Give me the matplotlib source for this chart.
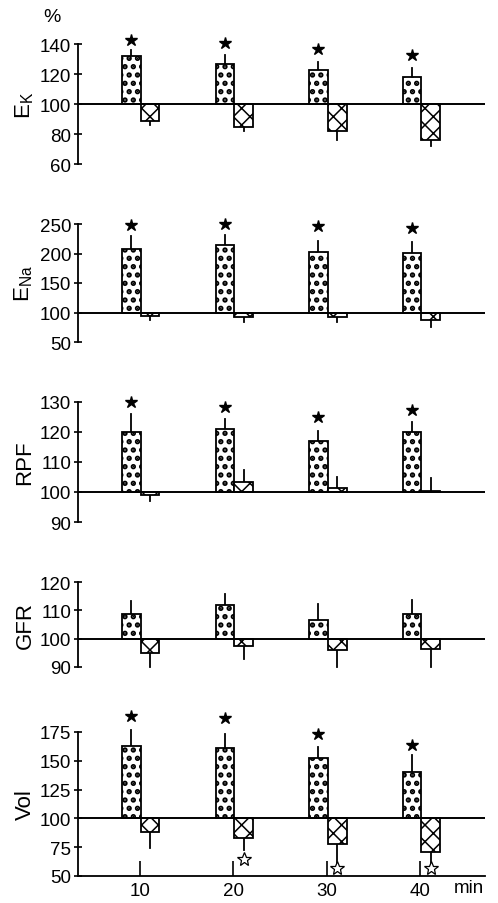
import matplotlib
matplotlib.use("Agg")
import matplotlib.pyplot as plt

plt.rcParams['font.family'] = ['Liberation Sans', 'DejaVu Sans']

# time points (min)
times = [10, 20, 30, 40]

# E_K
ek_drug = [132, 127, 123, 118]
ek_drug_err = [4, 6, 5, 6]
ek_ctrl = [89, 85, 82, 76]
ek_ctrl_err = [3, 3, 6, 4]
ek_star = [143, 141, 137, 133]

# E_Na
ena_drug = [207, 215, 202, 201]
ena_drug_err = [22, 17, 19, 18]
ena_ctrl = [94, 92, 93, 87]
ena_ctrl_err = [6, 8, 9, 12]
ena_star = [248, 250, 246, 243]

# RPF
rpf_drug = [120, 121, 117, 120]
rpf_drug_err = [6, 3.5, 3.5, 3.5]
rpf_ctrl = [99, 103.5, 101.5, 100.3]
rpf_ctrl_err = [2, 4, 3.5, 4.5]
rpf_star = [130, 128.3, 125, 127.3]

# GFR
gfr_drug = [108.8, 112, 106.7, 108.8]
gfr_drug_err = [4.5, 3.8, 5.6, 4.9]
gfr_ctrl = [95, 97.5, 96, 96.5]
gfr_ctrl_err = [5, 4.5, 6, 6.5]

# Vol
vol_drug = [163, 161, 152, 140]
vol_drug_err = [14, 12, 10, 15]
vol_ctrl = [88, 83, 78, 71]
vol_ctrl_err = [14, 10, 18, 14]
vol_star = [189, 187, 173, 164]
vol_open_star = [None, 65, 57, 57]

panels = [
    ("E$_\\mathregular{K}$", [60, 80, 100, 120, 140], ek_drug, ek_drug_err, ek_ctrl, ek_ctrl_err, ek_star, None, (45, 165)),
    ("E$_\\mathregular{Na}$", [50, 100, 150, 200, 250], ena_drug, ena_drug_err, ena_ctrl, ena_ctrl_err, ena_star, None, (225, 343)),
    ("RPF", [90, 100, 110, 120, 130], rpf_drug, rpf_drug_err, rpf_ctrl, rpf_ctrl_err, rpf_star, None, (403, 523)),
    ("GFR", [90, 100, 110, 120], gfr_drug, gfr_drug_err, gfr_ctrl, gfr_ctrl_err, None, None, (583, 668)),
    ("Vol", [50, 75, 100, 125, 150, 175], vol_drug, vol_drug_err, vol_ctrl, vol_ctrl_err, vol_star, vol_open_star, (733, 877)),
]

W, H = 498, 904
fig = plt.figure(figsize=(W / 100, H / 100), dpi=100)


def hatched_bars(ax, x, vals, hatch, hlw):
    with plt.rc_context({'hatch.linewidth': hlw}):
        bars = ax.bar(x, [v - 100 for v in vals], bottom=100, width=2.0, color='white',
                      edgecolor='black', hatch=hatch, linewidth=1.3, zorder=3)
        for b in bars:
            if hasattr(b, 'set_hatch_linewidth'):
                b.set_hatch_linewidth(hlw)
    return bars


x_left, x_right = 78, 485
for i, (label, ticks, drug, drug_err, ctrl, ctrl_err, stars, open_stars, (top, bot)) in enumerate(panels):
    ax = fig.add_axes([x_left / W, 1 - bot / H, (x_right - x_left) / W, (bot - top) / H])
    ax.set_xlim(3.4, 46.9)
    ax.set_ylim(ticks[0], ticks[-1])
    xd = [t - 0.9 for t in times]
    xc = [t + 1.1 for t in times]

    hatched_bars(ax, xd, drug, '..', 2.6)
    hatched_bars(ax, xc, ctrl, 'xx', 1.1)

    # error bars, drawn outward from the bar end
    for x, v, e in zip(xd, drug, drug_err):
        s = 1 if v >= 100 else -1
        ax.plot([x, x], [v, v + s * e], color='black', lw=1.3, zorder=2, clip_on=False)
    for x, v, e in zip(xc, ctrl, ctrl_err):
        s = 1 if v >= 100 else -1
        ax.plot([x, x], [v, v + s * e], color='black', lw=1.3, zorder=2, clip_on=False)

    ax.axhline(100, color='black', lw=1.4, zorder=4)

    if stars:
        ax.plot(xd, stars, marker='*', ls='none', color='black', ms=9, clip_on=False)
    if open_stars:
        for x, s in zip(xc, open_stars):
            if s is not None:
                ax.plot(x, s, marker='*', ls='none', mfc='white', mec='black',
                        mew=0.9, ms=10, clip_on=False, zorder=5)

    for sp in ['top', 'right']:
        ax.spines[sp].set_visible(False)
    ax.spines['left'].set_linewidth(1.3)
    ax.set_yticks(ticks)
    ax.tick_params(axis='y', direction='inout', length=6, width=1.2, labelsize=13.5, pad=2)
    ax.set_ylabel(label, fontsize=16, labelpad=3)

    if i < len(panels) - 1:
        ax.spines['bottom'].set_visible(False)
        ax.set_xticks([])
    else:
        ax.spines['bottom'].set_linewidth(1.3)
        ax.set_xticks(times)
        ax.tick_params(axis='x', direction='in', length=11, width=1.2, labelsize=13.5, pad=4)
        ax.text(45.2, -0.08, "min", transform=ax.get_xaxis_transform(), ha='center',
                va='center', fontsize=13.5)

fig.text(52 / W, 1 - 18 / H, "%", ha='center', va='center', fontsize=14)

fig.savefig("out.png", dpi=100)
